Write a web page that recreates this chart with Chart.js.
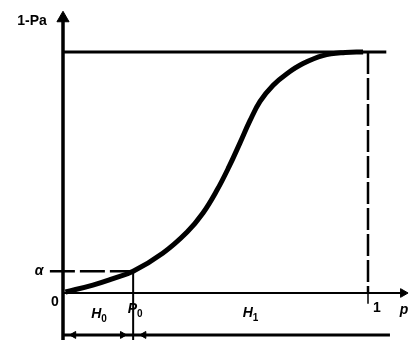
<!DOCTYPE html>
<html>
<head>
<meta charset="utf-8">
<script src="https://cdn.jsdelivr.net/npm/chart.js@4.4.0/dist/chart.umd.min.js"></script>
<style>
  html, body { margin: 0; padding: 0; background: #fff; }
  #oc { display: block; }
</style>
</head>
<body>
<canvas id="oc" width="411" height="340"></canvas>
<script>
// operating characteristic curve: fraction defective p vs 1-Pa
var pValues = [0.008, 0.098, 0.164, 0.230, 0.328, 0.407, 0.459, 0.505, 0.544, 0.580, 0.613, 0.646, 0.689, 0.734, 0.787, 0.852, 0.925, 0.984];
var rejectProb = [0.004, 0.033, 0.060, 0.090, 0.166, 0.253, 0.332, 0.427, 0.523, 0.622, 0.715, 0.795, 0.862, 0.910, 0.952, 0.985, 0.998, 1.0];
var alpha = 0.09;
var p0 = 0.23;
var axisTitleY = "1-Pa";
var axisTitleX = "p";
var tickOne = "1";
var tickZero = "0";

var curve = pValues.map(function (p, i) { return { x: p, y: rejectProb[i] }; });

function seg(points, width, dash) {
  return {
    data: points,
    showLine: true,
    borderColor: '#000',
    borderWidth: width,
    borderDash: dash || [],
    pointRadius: 0,
    fill: false
  };
}

function arrow(pt, size, rot) {
  return {
    data: [pt],
    showLine: false,
    pointStyle: 'triangle',
    pointRadius: size,
    rotation: rot,
    backgroundColor: '#000',
    borderColor: '#000',
    borderWidth: 1
  };
}

// text drawn at data anchors with pixel offsets
function drawText(ctx, txt, sub, px, py, font, subFont) {
  ctx.font = font;
  var w = ctx.measureText(txt).width;
  var sw = 0;
  if (sub) { ctx.font = subFont; sw = ctx.measureText(sub).width; }
  var x0 = px - (w + sw) / 2;
  ctx.font = font;
  ctx.fillText(txt, x0, py);
  if (sub) {
    ctx.font = subFont;
    ctx.fillText(sub, x0 + w, py + 5);
  }
}

var labelPlugin = {
  id: 'labels',
  afterDatasetsDraw: function (chart) {
    var ctx = chart.ctx, xs = chart.scales.x, ys = chart.scales.y;
    ctx.save();
    ctx.fillStyle = '#000';
    ctx.textBaseline = 'middle';
    var bold = 'bold 14px "Liberation Sans"';
    var it = 'italic bold 14px "Liberation Sans"';
    var sub = 'bold 10px "Liberation Sans"';
    drawText(ctx, axisTitleY, null, xs.getPixelForValue(0) - 31, ys.getPixelForValue(1.13), bold);
    drawText(ctx, 'α', null, xs.getPixelForValue(0) - 24, ys.getPixelForValue(alpha), it);
    drawText(ctx, tickZero, null, xs.getPixelForValue(0) - 8, ys.getPixelForValue(0) + 9, bold);
    drawText(ctx, 'H', '0', xs.getPixelForValue(p0 / 2) + 1, ys.getPixelForValue(0) + 21, it, sub);
    drawText(ctx, 'P', '0', xs.getPixelForValue(p0) + 2, ys.getPixelForValue(0) + 16, it, sub);
    drawText(ctx, 'H', '1', xs.getPixelForValue((p0 + 1) / 2) - 0, ys.getPixelForValue(0) + 20, it, sub);
    drawText(ctx, tickOne, null, xs.getPixelForValue(1) + 9, ys.getPixelForValue(0) + 15, bold);
    drawText(ctx, axisTitleX, null, xs.getPixelForValue(1) + 36, ys.getPixelForValue(0) + 17, it);
    ctx.restore();
  }
};

new Chart(document.getElementById('oc'), {
  type: 'scatter',
  data: {
    datasets: [
      Object.assign(seg(curve, 5), { tension: 0.4 }),
      seg([{ x: 0, y: -0.195 }, { x: 0, y: 1.13 }], 3.5),
      seg([{ x: 0, y: 0 }, { x: 1.11, y: 0 }], 2),
      seg([{ x: 0, y: 1 }, { x: 1.06, y: 1 }], 3),
      seg([{ x: 1, y: 1 }, { x: 1, y: 0 }], 2.5, [22, 4]),
      seg([{ x: 1, y: 0 }, { x: 1, y: -0.045 }], 1.5),
      seg([{ x: -0.043, y: alpha }, { x: p0, y: alpha }], 2.5, [25, 5]),
      seg([{ x: p0, y: alpha }, { x: p0, y: -0.195 }], 2),
      seg([{ x: 0, y: -0.174 }, { x: 1.072, y: -0.174 }], 3),
      arrow({ x: 0, y: 1.14 }, 7, 0),
      arrow({ x: 1.115, y: 0 }, 5, 90),
      arrow({ x: 0.035, y: -0.174 }, 4, -90),
      arrow({ x: p0 - 0.035, y: -0.174 }, 4, 90),
      arrow({ x: p0 + 0.035, y: -0.174 }, 4, -90)
    ]
  },
  options: {
    responsive: false,
    animation: false,
    layout: { padding: 0, autoPadding: false },
    plugins: { legend: { display: false }, tooltip: { enabled: false } },
    scales: {
      x: { type: 'linear', min: -63 / 305, max: 348 / 305, display: false },
      y: { type: 'linear', min: -47 / 241, max: 293 / 241, display: false }
    }
  },
  plugins: [labelPlugin]
});
</script>
</body>
</html>
